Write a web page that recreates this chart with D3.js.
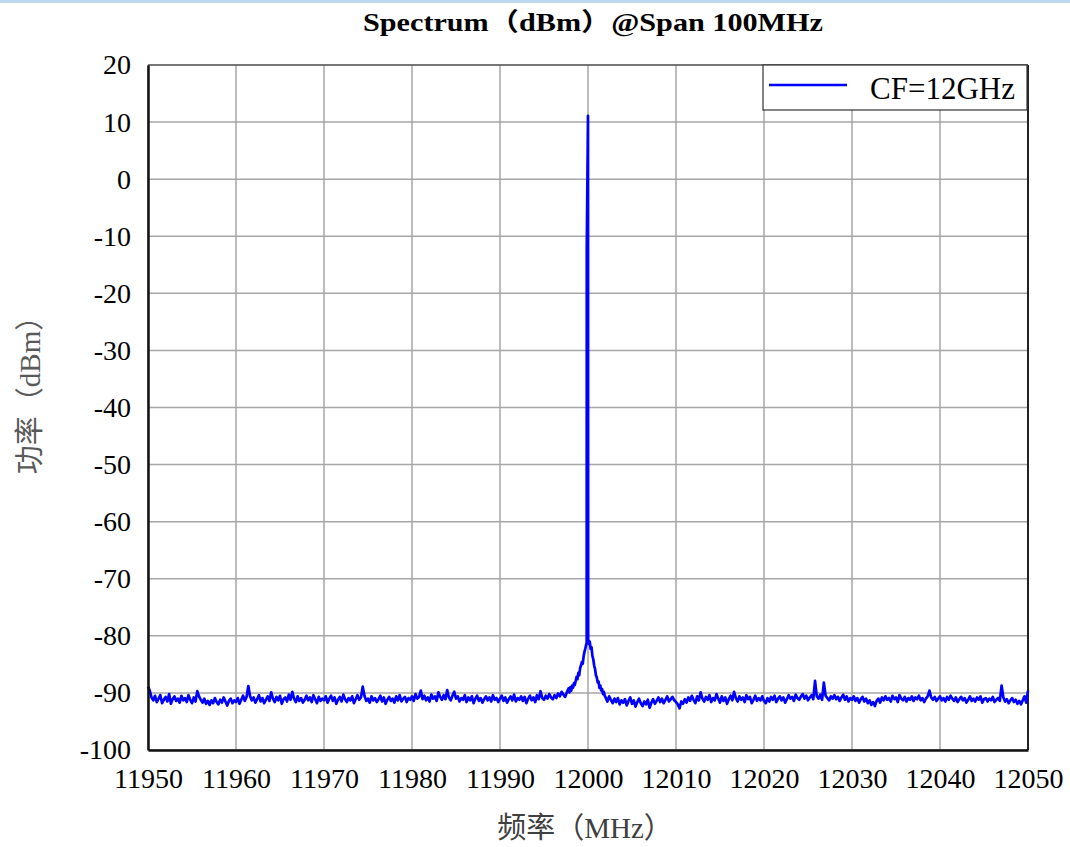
<!DOCTYPE html>
<html>
<head>
<meta charset="utf-8">
<script src="https://cdn.jsdelivr.net/npm/d3@7"></script>
<style>
body{margin:0;background:#fff;}
text{font-family:"Liberation Serif","Noto Sans CJK SC",serif;}
</style>
</head>
<body>
<script>
var width=1070, height=847,
    margin={left:148, right:42, top:65, bottom:97};

// tick values
var xTicks=[11950,11960,11970,11980,11990,12000,12010,12020,12030,12040,12050];
var yTicks=[20,10,0,-10,-20,-30,-40,-50,-60,-70,-80,-90,-100];

// noise floor left of carrier, 11950.0 .. 11997.6 MHz, 0.2 MHz step
var leftStart=11950, step=0.2;
var noiseLeft=[
 -88.9,-89.6,-90.8,-91.3,-90.5,-91.6,-91.0,-90.4,-91.8,-91.2,
 -90.7,-91.5,-90.2,-91.9,-91.1,-90.6,-91.4,-91.0,-91.7,-90.5,
 -91.3,-90.9,-91.6,-90.4,-91.2,-91.8,-90.8,-91.5,-89.7,-90.6,
 -91.2,-91.7,-91.0,-91.9,-91.4,-92.1,-91.3,-91.8,-90.9,-91.6,
 -92.0,-91.2,-91.7,-90.8,-91.5,-92.2,-91.4,-91.0,-91.8,-91.3,
 -91.6,-90.9,-91.9,-91.2,-90.5,-91.4,-90.7,-88.8,-90.6,-91.3,
 -90.8,-91.7,-91.1,-90.4,-91.5,-90.9,-91.8,-91.2,-90.6,-91.4,
 -89.9,-91.0,-91.6,-90.7,-91.3,-90.5,-91.9,-91.1,-90.8,-91.5,
 -90.3,-91.2,-89.8,-91.0,-91.6,-90.6,-91.4,-90.9,-91.7,-91.2,
 -90.5,-91.3,-90.8,-91.6,-90.4,-91.1,-91.8,-90.7,-91.4,-91.0,
 -91.3,-90.6,-91.7,-91.0,-90.5,-91.4,-90.8,-91.9,-91.2,-90.7,
 -91.5,-90.3,-91.1,-91.6,-90.9,-91.3,-90.6,-91.8,-91.1,-90.4,
 -91.2,-90.8,-88.9,-90.5,-91.4,-91.0,-91.7,-90.6,-91.3,-90.9,
 -91.6,-91.1,-90.5,-91.5,-90.8,-91.9,-91.2,-90.7,-91.4,-91.0,
 -91.7,-90.6,-91.3,-90.4,-91.5,-91.0,-90.7,-91.6,-90.9,-91.2,
 -90.6,-91.4,-90.2,-91.0,-90.7,-89.6,-91.1,-90.5,-91.3,-90.8,
 -91.5,-90.3,-91.0,-90.6,-91.4,-89.9,-90.7,-91.2,-90.4,-91.1,
 -89.5,-90.8,-91.3,-90.5,-89.8,-91.0,-90.6,-91.5,-90.9,-91.2,
 -90.4,-91.6,-90.8,-91.3,-90.6,-91.8,-91.0,-90.5,-91.4,-90.9,
 -91.7,-91.1,-90.6,-91.3,-90.8,-91.5,-90.4,-91.2,-90.9,-91.6,
 -91.0,-90.5,-91.4,-90.8,-91.7,-91.1,-90.6,-91.3,-90.3,-91.5,
 -90.9,-91.2,-90.6,-91.4,-90.7,-91.8,-91.0,-90.5,-91.3,-90.8,
 -91.6,-90.4,-91.1,-89.7,-90.9,-91.2,-90.5,-91.0,-90.2,-90.8,
 -91.1,-90.4,-90.9,-90.1,-90.6,-89.8,-90.3,-90.7,-89.9
];

// carrier and phase-noise pedestal
var pedFreq=[11997.8,11997.9,11998.0,11998.1,11998.2,11998.3,11998.4,11998.5,11998.6,11998.7,
 11998.8,11998.9,11999.0,11999.1,11999.2,11999.3,11999.4,11999.5,11999.6,11999.7,
 11999.8,11999.85,11999.86,12000.0,12000.02,12000.1,12000.2,12000.3,12000.4,12000.5,
 12000.6,12000.7,12000.8,12000.9,12001.0,12001.1,12001.2,12001.3,12001.4,12001.5,
 12001.6,12001.7,12001.8,12001.9];
var pedPower=[-89.2,-89.9,-89.0,-89.6,-88.7,-89.1,-88.3,-88.6,-87.9,-87.2,
 -87.6,-86.5,-86.9,-85.7,-85.2,-84.6,-84.9,-83.6,-82.8,-82.2,
 -81.5,-81.2,-12.0,11.1,-80.6,-81.4,-81.0,-82.3,-82.0,-83.5,
 -84.1,-85.2,-85.8,-86.9,-87.3,-88.2,-88.0,-89.1,-88.7,-89.6,
 -89.3,-90.2,-89.8,-90.5];

// noise floor right of carrier, 12002.0 .. 12050.0 MHz, 0.2 MHz step
var rightStart=12002;
var noiseRight=[
 -90.8,-91.5,-90.6,-91.2,-91.8,-91.0,-91.6,-90.9,-92.0,-91.3,
 -91.7,-91.1,-92.2,-91.4,-90.8,-91.9,-91.3,-92.4,-91.6,-91.0,
 -91.8,-92.3,-91.5,-92.0,-91.2,-92.6,-91.7,-91.1,-91.9,-91.4,
 -90.8,-91.6,-91.0,-91.8,-91.2,-90.6,-91.5,-91.1,-90.7,-91.3,
 -91.6,-92.0,-92.7,-91.5,-91.9,-91.1,-91.7,-90.8,-91.4,-90.5,
 -91.2,-91.8,-90.6,-91.3,-89.9,-91.0,-91.5,-90.7,-91.2,-90.4,
 -91.6,-90.9,-91.3,-90.2,-91.0,-91.7,-90.6,-91.4,-90.8,-91.9,
 -91.1,-90.5,-91.3,-89.8,-90.9,-91.5,-90.6,-91.2,-90.8,-91.6,
 -90.4,-91.1,-90.7,-91.8,-91.2,-90.5,-91.4,-90.9,-91.3,-90.6,
 -91.4,-91.8,-90.9,-91.5,-90.7,-91.2,-90.5,-91.6,-91.0,-90.6,
 -91.3,-90.8,-91.7,-91.1,-90.4,-91.0,-90.7,-91.4,-90.3,-90.9,
 -91.2,-90.6,-90.2,-91.0,-90.5,-91.3,-90.8,-90.4,-91.1,-87.9,
 -90.6,-91.0,-90.3,-91.2,-88.2,-90.5,-90.9,-91.3,-90.6,-91.0,
 -90.4,-91.1,-90.7,-91.4,-90.8,-90.3,-91.2,-90.6,-91.5,-90.9,
 -91.2,-90.6,-91.4,-90.9,-91.7,-91.1,-90.7,-91.5,-91.0,-91.8,
 -91.3,-92.1,-91.6,-92.3,-91.4,-91.0,-91.7,-90.8,-91.3,-90.6,
 -91.2,-90.9,-91.5,-90.5,-91.1,-90.8,-91.6,-90.4,-91.0,-91.3,
 -90.7,-91.5,-90.9,-91.2,-90.6,-91.4,-90.8,-91.1,-90.5,-91.3,
 -90.9,-91.6,-91.0,-90.6,-89.6,-90.8,-91.2,-90.7,-91.4,-91.0,
 -90.6,-91.3,-90.9,-91.5,-90.7,-91.2,-90.5,-91.0,-91.4,-90.8,
 -91.6,-91.1,-90.7,-91.3,-90.9,-91.7,-91.2,-90.6,-91.4,-91.0,
 -91.5,-90.8,-91.2,-90.6,-91.7,-91.1,-90.9,-91.5,-91.0,-91.3,
 -90.7,-91.6,-91.2,-90.9,-91.4,-88.7,-90.8,-91.5,-91.1,-91.8,
 -91.3,-90.9,-91.6,-91.2,-91.9,-91.4,-92.0,-91.3,-90.6,-91.7,
 -89.6
];

var legendLabel="CF=12GHz";
var lineColor="#0000ff";

var trace=[];
noiseLeft.forEach(function(v,i){ trace.push([leftStart+i*step, v]); });
pedFreq.forEach(function(f,i){ trace.push([f, pedPower[i]]); });
noiseRight.forEach(function(v,i){ trace.push([rightStart+i*step, v]); });

var svg=d3.select("body").append("svg").attr("width",width).attr("height",height);

svg.append("rect").attr("x",0).attr("y",0).attr("width",width).attr("height",3).attr("fill","#bdd7ee");

var x=d3.scaleLinear().domain([11950,12050]).range([margin.left,width-margin.right]);
var y=d3.scaleLinear().domain([-100,20]).range([height-margin.bottom,margin.top]);

// grid
svg.append("g").selectAll("line").data(xTicks).enter().append("line")
   .attr("x1",function(d){return x(d);}).attr("x2",function(d){return x(d);})
   .attr("y1",y(20)).attr("y2",y(-100))
   .attr("stroke","#a6a6a6").attr("stroke-width",1.5);
svg.append("g").selectAll("line").data(yTicks).enter().append("line")
   .attr("y1",function(d){return y(d);}).attr("y2",function(d){return y(d);})
   .attr("x1",x(11950)).attr("x2",x(12050))
   .attr("stroke","#a6a6a6").attr("stroke-width",1.5);

// frame
svg.append("line").attr("x1",x(11950)).attr("x2",x(12050)).attr("y1",y(20)).attr("y2",y(20)).attr("stroke","#333").attr("stroke-width",1);
svg.append("line").attr("x1",x(12050)).attr("x2",x(12050)).attr("y1",y(20)).attr("y2",y(-100)).attr("stroke","#222").attr("stroke-width",2);

// trace
var line=d3.line().x(function(d){return x(d[0]);}).y(function(d){return y(d[1]);});
svg.append("path").datum(trace).attr("d",line)
   .attr("fill","none").attr("stroke",lineColor).attr("stroke-width",2.7).attr("stroke-linejoin","round");

// axes
var plain=function(d){return String(d);};
var xAxis=svg.append("g").attr("transform","translate(0,"+y(-100)+")")
   .call(d3.axisBottom(x).tickValues(xTicks).tickFormat(plain).tickSize(0).tickPadding(18));
var yAxis=svg.append("g").attr("transform","translate("+x(11950)+",0)")
   .call(d3.axisLeft(y).tickValues(yTicks).tickFormat(plain).tickSize(0).tickPadding(17));
[xAxis,yAxis].forEach(function(a){
  a.select(".domain").attr("stroke","#111").attr("stroke-width",2.5);
  a.selectAll("text").attr("font-family","Liberation Serif").attr("font-size",28).attr("fill","#000");
});

// legend
var lg=svg.append("g");
lg.append("rect").attr("x",763).attr("y",65).attr("width",264).attr("height",45)
  .attr("fill","#fff").attr("stroke","#333").attr("stroke-width",1.2);
lg.append("line").attr("x1",769).attr("x2",847).attr("y1",85).attr("y2",85)
  .attr("stroke",lineColor).attr("stroke-width",2.5);
lg.append("text").attr("x",870).attr("y",99)
  .attr("font-size",31).attr("fill","#000").text(legendLabel);

// title and axis labels
svg.append("text").attr("x",593).attr("y",31).attr("text-anchor","middle")
  .attr("font-size",25).attr("font-weight","bold").attr("fill","#000")
  .attr("textLength",460).attr("lengthAdjust","spacingAndGlyphs")
  .text("Spectrum（dBm）@Span 100MHz");
svg.append("text").attr("transform","translate(40,388) rotate(-90)").attr("text-anchor","middle")
  .attr("font-size",29).attr("fill","#595959").text("功率（dBm）");
svg.append("text").attr("x",585).attr("y",838).attr("text-anchor","middle")
  .attr("font-size",29).attr("fill","#404040").text("频率（MHz）");
</script>
</body>
</html>
